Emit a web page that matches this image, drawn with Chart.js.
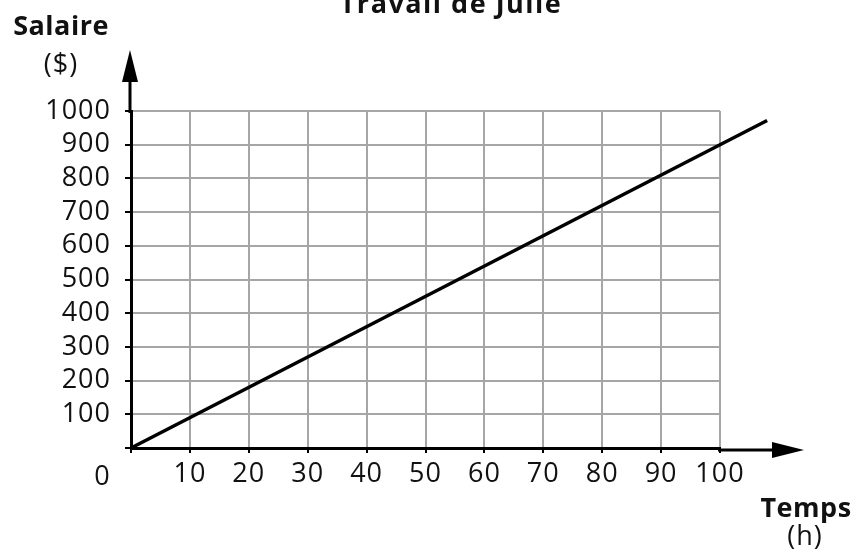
<!DOCTYPE html>
<html lang="fr">
<head>
<meta charset="UTF-8">
<title>Travail de Julie</title>
<script src="https://cdn.jsdelivr.net/npm/chart.js"></script>
<style>
  html, body { margin: 0; padding: 0; background: #fff; }
  .chart-container { width: 857px; height: 555px; position: relative; }
</style>
</head>
<body>
<div class="chart-container">
  <canvas id="salaryChart" width="857" height="555"></canvas>
</div>
<script>
// Travail de Julie : salaire selon le temps
const hours = [0, 108];
const salary = [0, 972];
const xTicks = [0, 10, 20, 30, 40, 50, 60, 70, 80, 90, 100];
const yTicks = [0, 100, 200, 300, 400, 500, 600, 700, 800, 900, 1000];

const FONT = '"Open Sans", "DejaVu Sans", sans-serif';
const INK = '#111';

// a little extra spacing, closer to the printed figure
const spacing = {
  id: 'spacing',
  beforeDraw(chart) { chart.ctx.letterSpacing = '1px'; }
};

// arrows on the axes and the free-standing labels
const axisExtras = {
  id: 'axisExtras',
  afterDatasetsDraw(chart) {
    const { ctx, chartArea } = chart;
    const x0 = chartArea.left - 1, y0 = chartArea.bottom + 2;
    ctx.save();
    ctx.strokeStyle = '#000';
    ctx.fillStyle = '#000';
    ctx.lineWidth = 3;
    // x axis extension + head
    ctx.beginPath();
    ctx.moveTo(chartArea.right - 2, y0);
    ctx.lineTo(780, y0);
    ctx.stroke();
    ctx.beginPath();
    ctx.moveTo(804, y0);
    ctx.lineTo(772, y0 - 8);
    ctx.lineTo(772, y0 + 8);
    ctx.closePath();
    ctx.fill();
    // y axis extension + head
    ctx.beginPath();
    ctx.moveTo(x0, chartArea.top + 2);
    ctx.lineTo(x0, 75);
    ctx.stroke();
    ctx.beginPath();
    ctx.moveTo(x0, 50);
    ctx.lineTo(x0 - 8, 82);
    ctx.lineTo(x0 + 8, 82);
    ctx.closePath();
    ctx.fill();

    ctx.fillStyle = INK;
    ctx.textAlign = 'center';
    ctx.textBaseline = 'alphabetic';
    ctx.letterSpacing = '1.5px';
    ctx.font = 'bold 27px ' + FONT;
    ctx.fillText('Travail de Julie', 451, 13);
    ctx.letterSpacing = '0.5px';
    ctx.fillText('Salaire', 61, 35);
    ctx.fillText('Temps', 806, 517);
    ctx.letterSpacing = '1px';
    ctx.font = '27px ' + FONT;
    ctx.fillText('($)', 61, 73);
    ctx.fillText('(h)', 805, 545);
    ctx.letterSpacing = '0px';
    ctx.fillText('0', 102, 485);
    ctx.restore();
  }
};

const ctx = document.getElementById('salaryChart').getContext('2d');
const salaryChart = new Chart(ctx, {
  type: 'line',
  data: {
    datasets: [{
      data: hours.map((h, i) => ({ x: h, y: salary[i] })),
      borderColor: '#000',
      borderWidth: 3.5,
      pointRadius: 0,
      fill: false,
      clip: false
    }]
  },
  options: {
    responsive: false,
    maintainAspectRatio: false,
    animation: false,
    devicePixelRatio: 1,
    layout: { padding: { left: 0, top: 111, right: 137, bottom: 0 } },
    plugins: {
      legend: { display: false },
      tooltip: { enabled: false }
    },
    scales: {
      x: {
        type: 'linear',
        min: 0,
        max: 100,
        afterBuildTicks: s => { s.ticks = xTicks.map(v => ({ value: v })); },
        afterFit: s => { s.height = 107; },
        grid: { color: '#a6a6a6', lineWidth: 2, tickColor: '#000', tickLength: 5 },
        border: { color: '#000', width: 3 },
        ticks: {
          autoSkip: false,
          maxRotation: 0,
          padding: 5,
          color: INK,
          font: { family: FONT, size: 27 },
          callback: v => (v === 0 ? '' : v)
        }
      },
      y: {
        type: 'linear',
        min: 0,
        max: 1000,
        afterBuildTicks: s => { s.ticks = yTicks.map(v => ({ value: v })); },
        afterFit: s => { s.width = 131; },
        grid: { color: '#a6a6a6', lineWidth: 2, tickColor: '#000', tickLength: 6 },
        border: { color: '#000', width: 3 },
        ticks: {
          autoSkip: false,
          padding: 14,
          color: INK,
          font: { family: FONT, size: 27 },
          callback: v => (v === 0 ? '' : v)
        }
      }
    }
  },
  plugins: [spacing, axisExtras]
});
</script>
</body>
</html>
